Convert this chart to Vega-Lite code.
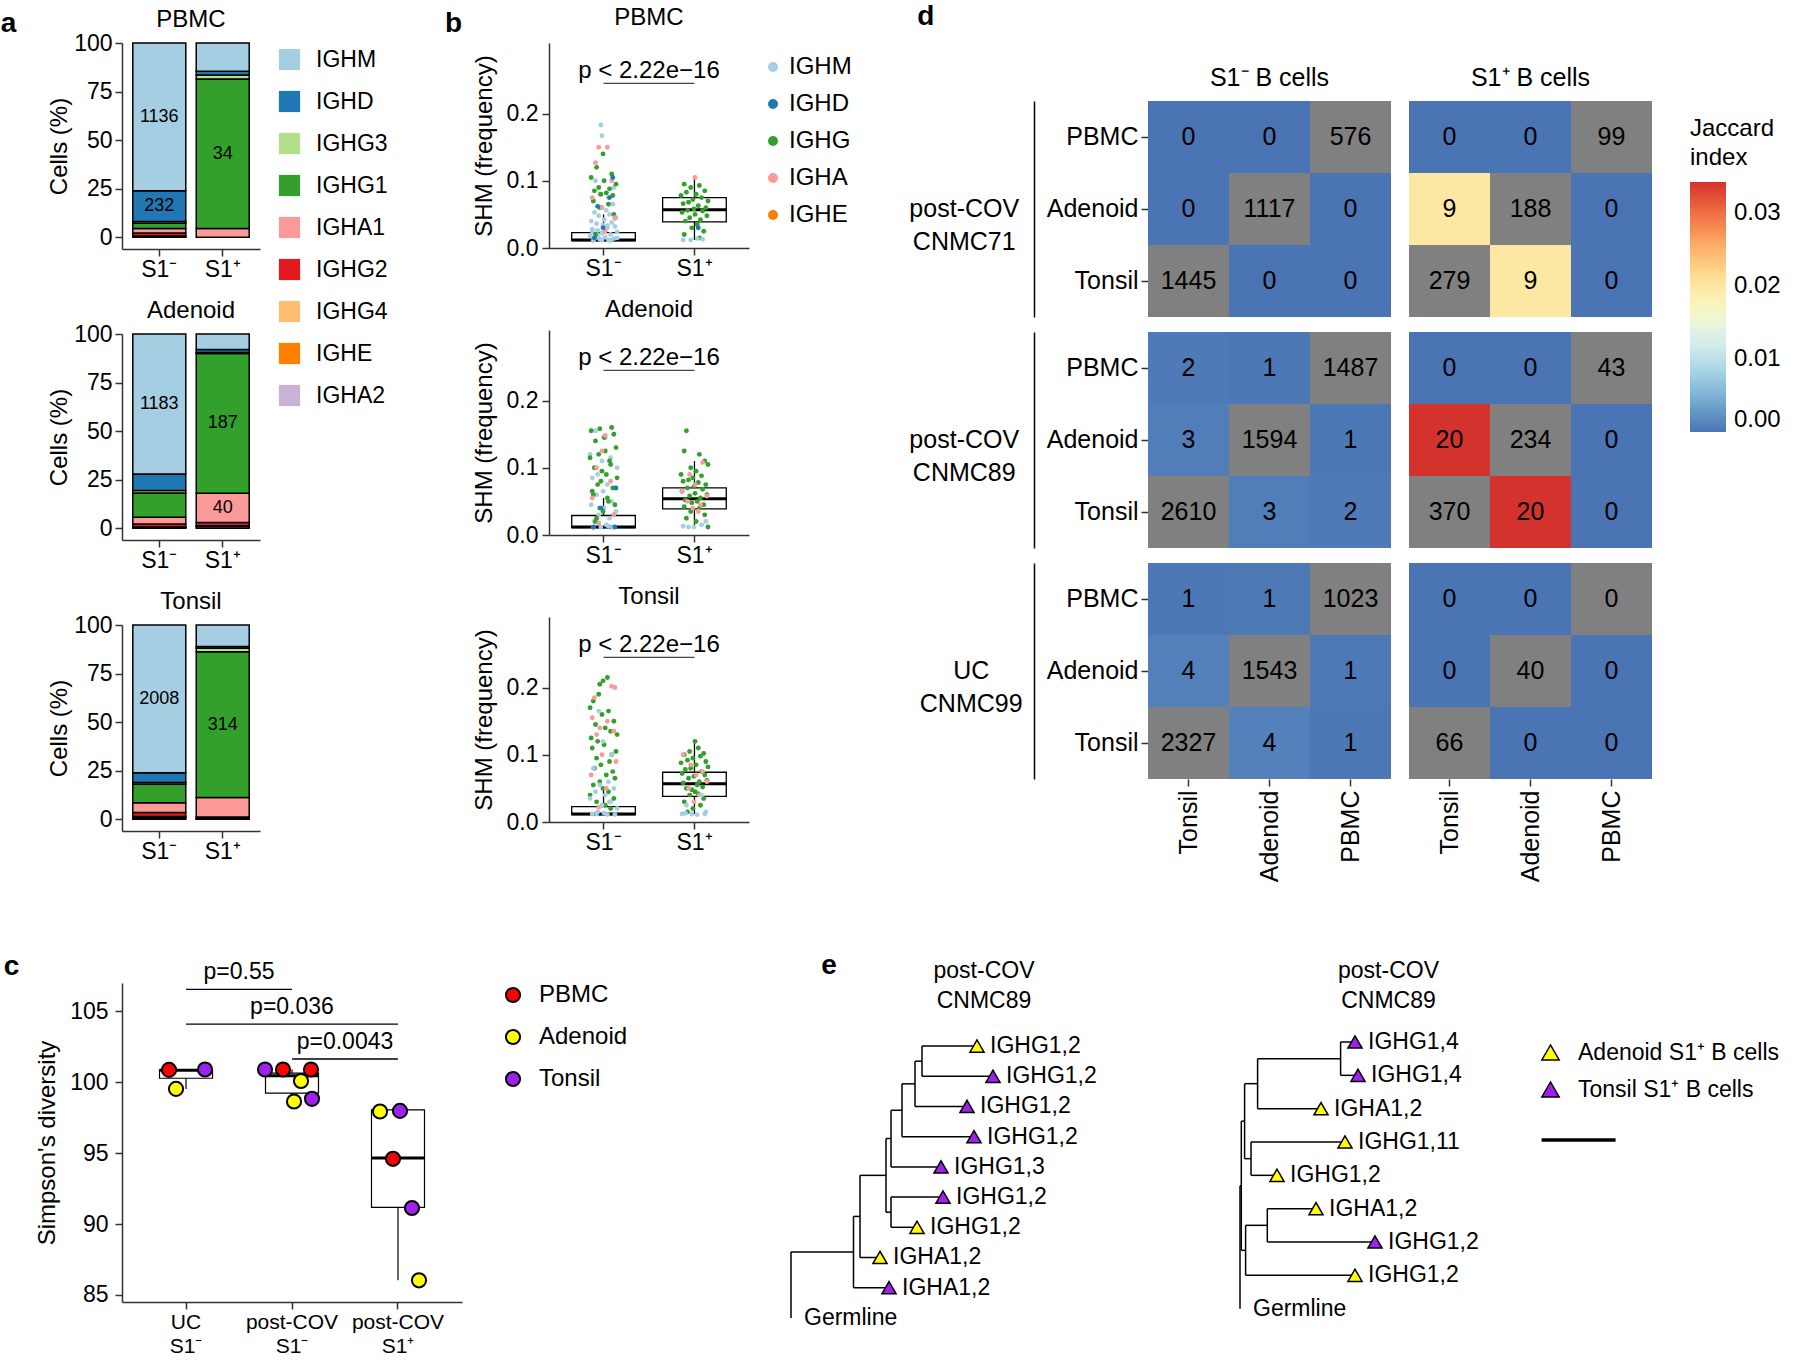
{
"$schema": "https://vega.github.io/schema/vega-lite/v6.json",
"padding": {"left": 0, "top": 3, "right": 0, "bottom": 0},
"background": "white",
"config": {
  "font": "Liberation Sans",
  "view": {"stroke": null},
  "axis": {"labelFontSize": 23, "titleFontSize": 24, "titleFontWeight": "normal", "labelColor": "black", "titleColor": "black", "domainColor": "#333333", "tickColor": "#333333", "domainWidth": 1.5, "tickWidth": 1.5, "grid": false, "labelOverlap": false, "labelFlush": false},
  "legend": {"labelFontSize": 23, "titleFontSize": 23, "titleFontWeight": "normal", "labelColor": "black", "titleColor": "black", "labelLimit": 400},
  "title": {"fontSize": 24, "fontWeight": "normal", "color": "black"},
  "header": {"labelFontSize": 25, "labelColor": "black"}
},
"datasets": {
  "isotypes": [
    {"tissue":"PBMC","s1":"S1⁻","iso":"IGHA2","ord":1,"pct":0.3},
    {"tissue":"PBMC","s1":"S1⁻","iso":"IGHE","ord":2,"pct":0.1},
    {"tissue":"PBMC","s1":"S1⁻","iso":"IGHG4","ord":3,"pct":0.3},
    {"tissue":"PBMC","s1":"S1⁻","iso":"IGHG2","ord":4,"pct":1.5},
    {"tissue":"PBMC","s1":"S1⁻","iso":"IGHA1","ord":5,"pct":2.3},
    {"tissue":"PBMC","s1":"S1⁻","iso":"IGHG1","ord":6,"pct":2.8},
    {"tissue":"PBMC","s1":"S1⁻","iso":"IGHG3","ord":7,"pct":0.9},
    {"tissue":"PBMC","s1":"S1⁻","iso":"IGHD","ord":8,"pct":15.8,"n":232},
    {"tissue":"PBMC","s1":"S1⁻","iso":"IGHM","ord":9,"pct":76,"n":1136},
    {"tissue":"PBMC","s1":"S1⁺","iso":"IGHA1","ord":5,"pct":4.5},
    {"tissue":"PBMC","s1":"S1⁺","iso":"IGHG1","ord":6,"pct":77,"n":34},
    {"tissue":"PBMC","s1":"S1⁺","iso":"IGHG3","ord":7,"pct":2},
    {"tissue":"PBMC","s1":"S1⁺","iso":"IGHD","ord":8,"pct":2},
    {"tissue":"PBMC","s1":"S1⁺","iso":"IGHM","ord":9,"pct":14.5},
    {"tissue":"Adenoid","s1":"S1⁻","iso":"IGHA2","ord":1,"pct":0.3},
    {"tissue":"Adenoid","s1":"S1⁻","iso":"IGHE","ord":2,"pct":0.2},
    {"tissue":"Adenoid","s1":"S1⁻","iso":"IGHG4","ord":3,"pct":0.2},
    {"tissue":"Adenoid","s1":"S1⁻","iso":"IGHG2","ord":4,"pct":1.5},
    {"tissue":"Adenoid","s1":"S1⁻","iso":"IGHA1","ord":5,"pct":3.5},
    {"tissue":"Adenoid","s1":"S1⁻","iso":"IGHG1","ord":6,"pct":12.5},
    {"tissue":"Adenoid","s1":"S1⁻","iso":"IGHG3","ord":7,"pct":1.3},
    {"tissue":"Adenoid","s1":"S1⁻","iso":"IGHD","ord":8,"pct":8.5},
    {"tissue":"Adenoid","s1":"S1⁻","iso":"IGHM","ord":9,"pct":72,"n":1183},
    {"tissue":"Adenoid","s1":"S1⁺","iso":"IGHA2","ord":1,"pct":1},
    {"tissue":"Adenoid","s1":"S1⁺","iso":"IGHG4","ord":3,"pct":0.3},
    {"tissue":"Adenoid","s1":"S1⁺","iso":"IGHG2","ord":4,"pct":1.7},
    {"tissue":"Adenoid","s1":"S1⁺","iso":"IGHA1","ord":5,"pct":15,"n":40},
    {"tissue":"Adenoid","s1":"S1⁺","iso":"IGHG1","ord":6,"pct":72,"n":187},
    {"tissue":"Adenoid","s1":"S1⁺","iso":"IGHG3","ord":7,"pct":0.5},
    {"tissue":"Adenoid","s1":"S1⁺","iso":"IGHD","ord":8,"pct":1.5},
    {"tissue":"Adenoid","s1":"S1⁺","iso":"IGHM","ord":9,"pct":8},
    {"tissue":"Tonsil","s1":"S1⁻","iso":"IGHA2","ord":1,"pct":0.8},
    {"tissue":"Tonsil","s1":"S1⁻","iso":"IGHE","ord":2,"pct":0.2},
    {"tissue":"Tonsil","s1":"S1⁻","iso":"IGHG4","ord":3,"pct":0.5},
    {"tissue":"Tonsil","s1":"S1⁻","iso":"IGHG2","ord":4,"pct":2},
    {"tissue":"Tonsil","s1":"S1⁻","iso":"IGHA1","ord":5,"pct":5},
    {"tissue":"Tonsil","s1":"S1⁻","iso":"IGHG1","ord":6,"pct":9.5},
    {"tissue":"Tonsil","s1":"S1⁻","iso":"IGHG3","ord":7,"pct":1},
    {"tissue":"Tonsil","s1":"S1⁻","iso":"IGHD","ord":8,"pct":5},
    {"tissue":"Tonsil","s1":"S1⁻","iso":"IGHM","ord":9,"pct":76,"n":2008},
    {"tissue":"Tonsil","s1":"S1⁺","iso":"IGHA2","ord":1,"pct":0.2},
    {"tissue":"Tonsil","s1":"S1⁺","iso":"IGHG4","ord":3,"pct":0.2},
    {"tissue":"Tonsil","s1":"S1⁺","iso":"IGHG2","ord":4,"pct":0.8},
    {"tissue":"Tonsil","s1":"S1⁺","iso":"IGHA1","ord":5,"pct":10},
    {"tissue":"Tonsil","s1":"S1⁺","iso":"IGHG1","ord":6,"pct":75,"n":314},
    {"tissue":"Tonsil","s1":"S1⁺","iso":"IGHG3","ord":7,"pct":1.8},
    {"tissue":"Tonsil","s1":"S1⁺","iso":"IGHD","ord":8,"pct":1},
    {"tissue":"Tonsil","s1":"S1⁺","iso":"IGHM","ord":9,"pct":11}
  ],
  "shm": [
    {"t":"PBMC","g":"S1⁻","i":"IGHM","v":0.011,"k":3},{"t":"PBMC","g":"S1⁻","i":"IGHM","v":0.012,"k":17},{"t":"PBMC","g":"S1⁻","i":"IGHM","v":0.013,"k":9},{"t":"PBMC","g":"S1⁻","i":"IGHM","v":0.014,"k":22},{"t":"PBMC","g":"S1⁻","i":"IGHM","v":0.015,"k":5},{"t":"PBMC","g":"S1⁻","i":"IGHM","v":0.016,"k":14},{"t":"PBMC","g":"S1⁻","i":"IGHM","v":0.018,"k":0},{"t":"PBMC","g":"S1⁻","i":"IGHM","v":0.02,"k":19},{"t":"PBMC","g":"S1⁻","i":"IGHM","v":0.022,"k":11},{"t":"PBMC","g":"S1⁻","i":"IGHM","v":0.024,"k":25},
    {"t":"PBMC","g":"S1⁻","i":"IGHM","v":0.026,"k":7},{"t":"PBMC","g":"S1⁻","i":"IGHM","v":0.028,"k":2},{"t":"PBMC","g":"S1⁻","i":"IGHM","v":0.03,"k":16},{"t":"PBMC","g":"S1⁻","i":"IGHM","v":0.032,"k":23},{"t":"PBMC","g":"S1⁻","i":"IGHM","v":0.034,"k":12},{"t":"PBMC","g":"S1⁻","i":"IGHM","v":0.036,"k":6},{"t":"PBMC","g":"S1⁻","i":"IGHM","v":0.038,"k":20},{"t":"PBMC","g":"S1⁻","i":"IGHM","v":0.04,"k":1},{"t":"PBMC","g":"S1⁻","i":"IGHM","v":0.042,"k":13},{"t":"PBMC","g":"S1⁻","i":"IGHM","v":0.045,"k":24},
    {"t":"PBMC","g":"S1⁻","i":"IGHM","v":0.048,"k":8},{"t":"PBMC","g":"S1⁻","i":"IGHM","v":0.05,"k":18},{"t":"PBMC","g":"S1⁻","i":"IGHM","v":0.053,"k":4},{"t":"PBMC","g":"S1⁻","i":"IGHM","v":0.056,"k":15},{"t":"PBMC","g":"S1⁻","i":"IGHM","v":0.06,"k":10},{"t":"PBMC","g":"S1⁻","i":"IGHM","v":0.065,"k":21},{"t":"PBMC","g":"S1⁻","i":"IGHM","v":0.07,"k":3},{"t":"PBMC","g":"S1⁻","i":"IGHM","v":0.075,"k":17},{"t":"PBMC","g":"S1⁻","i":"IGHM","v":0.08,"k":9},{"t":"PBMC","g":"S1⁻","i":"IGHM","v":0.09,"k":22},
    {"t":"PBMC","g":"S1⁻","i":"IGHM","v":0.1,"k":5},{"t":"PBMC","g":"S1⁻","i":"IGHM","v":0.183,"k":10},{"t":"PBMC","g":"S1⁻","i":"IGHM","v":0.167,"k":11},{"t":"PBMC","g":"S1⁻","i":"IGHM","v":0.011,"k":19},{"t":"PBMC","g":"S1⁻","i":"IGHM","v":0.012,"k":11},{"t":"PBMC","g":"S1⁻","i":"IGHM","v":0.015,"k":25},{"t":"PBMC","g":"S1⁻","i":"IGHM","v":0.019,"k":7},{"t":"PBMC","g":"S1⁻","i":"IGHM","v":0.025,"k":2},{"t":"PBMC","g":"S1⁻","i":"IGHM","v":0.033,"k":16},{"t":"PBMC","g":"S1⁻","i":"IGHM","v":0.044,"k":23},
    {"t":"PBMC","g":"S1⁻","i":"IGHG","v":0.14,"k":12},{"t":"PBMC","g":"S1⁻","i":"IGHG","v":0.12,"k":6},{"t":"PBMC","g":"S1⁻","i":"IGHG","v":0.11,"k":20},{"t":"PBMC","g":"S1⁻","i":"IGHG","v":0.105,"k":1},{"t":"PBMC","g":"S1⁻","i":"IGHG","v":0.1,"k":13},{"t":"PBMC","g":"S1⁻","i":"IGHG","v":0.095,"k":24},{"t":"PBMC","g":"S1⁻","i":"IGHG","v":0.09,"k":8},{"t":"PBMC","g":"S1⁻","i":"IGHG","v":0.088,"k":18},{"t":"PBMC","g":"S1⁻","i":"IGHG","v":0.085,"k":4},
    {"t":"PBMC","g":"S1⁻","i":"IGHG","v":0.082,"k":15},{"t":"PBMC","g":"S1⁻","i":"IGHG","v":0.08,"k":10},{"t":"PBMC","g":"S1⁻","i":"IGHG","v":0.078,"k":21},{"t":"PBMC","g":"S1⁻","i":"IGHG","v":0.07,"k":3},{"t":"PBMC","g":"S1⁻","i":"IGHG","v":0.065,"k":17},{"t":"PBMC","g":"S1⁻","i":"IGHG","v":0.06,"k":9},{"t":"PBMC","g":"S1⁻","i":"IGHG","v":0.05,"k":22},{"t":"PBMC","g":"S1⁻","i":"IGHG","v":0.02,"k":5},
    {"t":"PBMC","g":"S1⁻","i":"IGHA","v":0.15,"k":8},{"t":"PBMC","g":"S1⁻","i":"IGHA","v":0.15,"k":16},{"t":"PBMC","g":"S1⁻","i":"IGHA","v":0.127,"k":5},{"t":"PBMC","g":"S1⁻","i":"IGHA","v":0.1,"k":20},{"t":"PBMC","g":"S1⁻","i":"IGHA","v":0.075,"k":2},{"t":"PBMC","g":"S1⁻","i":"IGHA","v":0.06,"k":11},{"t":"PBMC","g":"S1⁻","i":"IGHA","v":0.045,"k":23},{"t":"PBMC","g":"S1⁻","i":"IGHA","v":0.025,"k":14},
    {"t":"PBMC","g":"S1⁻","i":"IGHD","v":0.105,"k":21},{"t":"PBMC","g":"S1⁻","i":"IGHD","v":0.075,"k":18},{"t":"PBMC","g":"S1⁻","i":"IGHD","v":0.062,"k":7},{"t":"PBMC","g":"S1⁻","i":"IGHD","v":0.03,"k":12},{"t":"PBMC","g":"S1⁻","i":"IGHD","v":0.015,"k":4},
    {"t":"PBMC","g":"S1⁺","i":"IGHG","v":0.095,"k":3},{"t":"PBMC","g":"S1⁺","i":"IGHG","v":0.093,"k":17},{"t":"PBMC","g":"S1⁺","i":"IGHG","v":0.09,"k":9},{"t":"PBMC","g":"S1⁺","i":"IGHG","v":0.085,"k":22},{"t":"PBMC","g":"S1⁺","i":"IGHG","v":0.083,"k":5},{"t":"PBMC","g":"S1⁺","i":"IGHG","v":0.08,"k":14},{"t":"PBMC","g":"S1⁺","i":"IGHG","v":0.078,"k":0},{"t":"PBMC","g":"S1⁺","i":"IGHG","v":0.075,"k":19},{"t":"PBMC","g":"S1⁺","i":"IGHG","v":0.072,"k":11},{"t":"PBMC","g":"S1⁺","i":"IGHG","v":0.07,"k":25},
    {"t":"PBMC","g":"S1⁺","i":"IGHG","v":0.068,"k":7},{"t":"PBMC","g":"S1⁺","i":"IGHG","v":0.066,"k":2},{"t":"PBMC","g":"S1⁺","i":"IGHG","v":0.063,"k":16},{"t":"PBMC","g":"S1⁺","i":"IGHG","v":0.06,"k":23},{"t":"PBMC","g":"S1⁺","i":"IGHG","v":0.058,"k":12},{"t":"PBMC","g":"S1⁺","i":"IGHG","v":0.056,"k":6},{"t":"PBMC","g":"S1⁺","i":"IGHG","v":0.055,"k":20},{"t":"PBMC","g":"S1⁺","i":"IGHG","v":0.053,"k":1},{"t":"PBMC","g":"S1⁺","i":"IGHG","v":0.05,"k":13},{"t":"PBMC","g":"S1⁺","i":"IGHG","v":0.048,"k":24},
    {"t":"PBMC","g":"S1⁺","i":"IGHG","v":0.045,"k":8},{"t":"PBMC","g":"S1⁺","i":"IGHG","v":0.042,"k":18},{"t":"PBMC","g":"S1⁺","i":"IGHG","v":0.04,"k":4},{"t":"PBMC","g":"S1⁺","i":"IGHG","v":0.035,"k":15},{"t":"PBMC","g":"S1⁺","i":"IGHG","v":0.03,"k":10},{"t":"PBMC","g":"S1⁺","i":"IGHG","v":0.025,"k":21},{"t":"PBMC","g":"S1⁺","i":"IGHG","v":0.02,"k":3},{"t":"PBMC","g":"S1⁺","i":"IGHG","v":0.015,"k":17},
    {"t":"PBMC","g":"S1⁺","i":"IGHA","v":0.105,"k":13},{"t":"PBMC","g":"S1⁺","i":"IGHD","v":0.03,"k":16},{"t":"PBMC","g":"S1⁺","i":"IGHM","v":0.012,"k":2},{"t":"PBMC","g":"S1⁺","i":"IGHM","v":0.012,"k":9},{"t":"PBMC","g":"S1⁺","i":"IGHM","v":0.013,"k":20},{"t":"PBMC","g":"S1⁺","i":"IGHM","v":0.014,"k":15},
    {"t":"Adenoid","g":"S1⁻","i":"IGHM","v":0.155,"k":5},{"t":"Adenoid","g":"S1⁻","i":"IGHM","v":0.145,"k":14},{"t":"Adenoid","g":"S1⁻","i":"IGHM","v":0.12,"k":0},{"t":"Adenoid","g":"S1⁻","i":"IGHM","v":0.115,"k":19},{"t":"Adenoid","g":"S1⁻","i":"IGHM","v":0.11,"k":11},{"t":"Adenoid","g":"S1⁻","i":"IGHM","v":0.1,"k":25},{"t":"Adenoid","g":"S1⁻","i":"IGHM","v":0.09,"k":7},{"t":"Adenoid","g":"S1⁻","i":"IGHM","v":0.085,"k":2},{"t":"Adenoid","g":"S1⁻","i":"IGHM","v":0.075,"k":16},{"t":"Adenoid","g":"S1⁻","i":"IGHM","v":0.07,"k":23},
    {"t":"Adenoid","g":"S1⁻","i":"IGHM","v":0.065,"k":12},{"t":"Adenoid","g":"S1⁻","i":"IGHM","v":0.06,"k":6},{"t":"Adenoid","g":"S1⁻","i":"IGHM","v":0.05,"k":20},{"t":"Adenoid","g":"S1⁻","i":"IGHM","v":0.045,"k":1},{"t":"Adenoid","g":"S1⁻","i":"IGHM","v":0.04,"k":13},{"t":"Adenoid","g":"S1⁻","i":"IGHM","v":0.035,"k":24},{"t":"Adenoid","g":"S1⁻","i":"IGHM","v":0.03,"k":8},{"t":"Adenoid","g":"S1⁻","i":"IGHM","v":0.025,"k":18},{"t":"Adenoid","g":"S1⁻","i":"IGHM","v":0.02,"k":4},{"t":"Adenoid","g":"S1⁻","i":"IGHM","v":0.015,"k":15},
    {"t":"Adenoid","g":"S1⁻","i":"IGHM","v":0.012,"k":10},{"t":"Adenoid","g":"S1⁻","i":"IGHM","v":0.011,"k":21},{"t":"Adenoid","g":"S1⁻","i":"IGHM","v":0.011,"k":3},{"t":"Adenoid","g":"S1⁻","i":"IGHM","v":0.013,"k":17},
    {"t":"Adenoid","g":"S1⁻","i":"IGHG","v":0.16,"k":20},{"t":"Adenoid","g":"S1⁻","i":"IGHG","v":0.158,"k":9},{"t":"Adenoid","g":"S1⁻","i":"IGHG","v":0.155,"k":1},{"t":"Adenoid","g":"S1⁻","i":"IGHG","v":0.15,"k":22},{"t":"Adenoid","g":"S1⁻","i":"IGHG","v":0.145,"k":13},{"t":"Adenoid","g":"S1⁻","i":"IGHG","v":0.14,"k":5},{"t":"Adenoid","g":"S1⁻","i":"IGHG","v":0.13,"k":24},{"t":"Adenoid","g":"S1⁻","i":"IGHG","v":0.125,"k":14},{"t":"Adenoid","g":"S1⁻","i":"IGHG","v":0.12,"k":8},{"t":"Adenoid","g":"S1⁻","i":"IGHG","v":0.115,"k":0},
    {"t":"Adenoid","g":"S1⁻","i":"IGHG","v":0.11,"k":18},{"t":"Adenoid","g":"S1⁻","i":"IGHG","v":0.105,"k":19},{"t":"Adenoid","g":"S1⁻","i":"IGHG","v":0.1,"k":4},{"t":"Adenoid","g":"S1⁻","i":"IGHG","v":0.095,"k":11},{"t":"Adenoid","g":"S1⁻","i":"IGHG","v":0.09,"k":15},{"t":"Adenoid","g":"S1⁻","i":"IGHG","v":0.085,"k":25},{"t":"Adenoid","g":"S1⁻","i":"IGHG","v":0.08,"k":10},{"t":"Adenoid","g":"S1⁻","i":"IGHG","v":0.075,"k":7},{"t":"Adenoid","g":"S1⁻","i":"IGHG","v":0.07,"k":21},{"t":"Adenoid","g":"S1⁻","i":"IGHG","v":0.065,"k":2},
    {"t":"Adenoid","g":"S1⁻","i":"IGHG","v":0.06,"k":3},{"t":"Adenoid","g":"S1⁻","i":"IGHG","v":0.055,"k":16},{"t":"Adenoid","g":"S1⁻","i":"IGHG","v":0.05,"k":17},{"t":"Adenoid","g":"S1⁻","i":"IGHG","v":0.045,"k":23},{"t":"Adenoid","g":"S1⁻","i":"IGHG","v":0.04,"k":9},{"t":"Adenoid","g":"S1⁻","i":"IGHG","v":0.035,"k":12},{"t":"Adenoid","g":"S1⁻","i":"IGHG","v":0.03,"k":22},{"t":"Adenoid","g":"S1⁻","i":"IGHG","v":0.025,"k":6},{"t":"Adenoid","g":"S1⁻","i":"IGHG","v":0.02,"k":5},
    {"t":"Adenoid","g":"S1⁻","i":"IGHA","v":0.148,"k":14},{"t":"Adenoid","g":"S1⁻","i":"IGHA","v":0.125,"k":11},{"t":"Adenoid","g":"S1⁻","i":"IGHA","v":0.1,"k":6},{"t":"Adenoid","g":"S1⁻","i":"IGHA","v":0.08,"k":19},{"t":"Adenoid","g":"S1⁻","i":"IGHA","v":0.055,"k":2},{"t":"Adenoid","g":"S1⁻","i":"IGHA","v":0.03,"k":22},{"t":"Adenoid","g":"S1⁻","i":"IGHA","v":0.018,"k":8},
    {"t":"Adenoid","g":"S1⁻","i":"IGHD","v":0.012,"k":3},{"t":"Adenoid","g":"S1⁻","i":"IGHD","v":0.012,"k":23},{"t":"Adenoid","g":"S1⁻","i":"IGHD","v":0.07,"k":24},{"t":"Adenoid","g":"S1⁻","i":"IGHD","v":0.04,"k":10},
    {"t":"Adenoid","g":"S1⁺","i":"IGHG","v":0.155,"k":5},{"t":"Adenoid","g":"S1⁺","i":"IGHG","v":0.125,"k":3},{"t":"Adenoid","g":"S1⁺","i":"IGHG","v":0.12,"k":17},{"t":"Adenoid","g":"S1⁺","i":"IGHG","v":0.11,"k":22},{"t":"Adenoid","g":"S1⁺","i":"IGHG","v":0.105,"k":25},{"t":"Adenoid","g":"S1⁺","i":"IGHG","v":0.1,"k":9},{"t":"Adenoid","g":"S1⁺","i":"IGHG","v":0.095,"k":14},{"t":"Adenoid","g":"S1⁺","i":"IGHG","v":0.09,"k":0},{"t":"Adenoid","g":"S1⁺","i":"IGHG","v":0.088,"k":19},{"t":"Adenoid","g":"S1⁺","i":"IGHG","v":0.085,"k":11},
    {"t":"Adenoid","g":"S1⁺","i":"IGHG","v":0.082,"k":7},{"t":"Adenoid","g":"S1⁺","i":"IGHG","v":0.08,"k":2},{"t":"Adenoid","g":"S1⁺","i":"IGHG","v":0.078,"k":16},{"t":"Adenoid","g":"S1⁺","i":"IGHG","v":0.075,"k":23},{"t":"Adenoid","g":"S1⁺","i":"IGHG","v":0.072,"k":12},{"t":"Adenoid","g":"S1⁺","i":"IGHG","v":0.07,"k":6},{"t":"Adenoid","g":"S1⁺","i":"IGHG","v":0.068,"k":20},{"t":"Adenoid","g":"S1⁺","i":"IGHG","v":0.065,"k":1},{"t":"Adenoid","g":"S1⁺","i":"IGHG","v":0.062,"k":13},{"t":"Adenoid","g":"S1⁺","i":"IGHG","v":0.06,"k":24},
    {"t":"Adenoid","g":"S1⁺","i":"IGHG","v":0.058,"k":8},{"t":"Adenoid","g":"S1⁺","i":"IGHG","v":0.055,"k":18},{"t":"Adenoid","g":"S1⁺","i":"IGHG","v":0.052,"k":4},{"t":"Adenoid","g":"S1⁺","i":"IGHG","v":0.05,"k":15},{"t":"Adenoid","g":"S1⁺","i":"IGHG","v":0.048,"k":10},{"t":"Adenoid","g":"S1⁺","i":"IGHG","v":0.045,"k":21},{"t":"Adenoid","g":"S1⁺","i":"IGHG","v":0.042,"k":3},{"t":"Adenoid","g":"S1⁺","i":"IGHG","v":0.04,"k":17},{"t":"Adenoid","g":"S1⁺","i":"IGHG","v":0.035,"k":9},{"t":"Adenoid","g":"S1⁺","i":"IGHG","v":0.03,"k":22},
    {"t":"Adenoid","g":"S1⁺","i":"IGHG","v":0.025,"k":5},{"t":"Adenoid","g":"S1⁺","i":"IGHG","v":0.02,"k":14},{"t":"Adenoid","g":"S1⁺","i":"IGHG","v":0.012,"k":25},
    {"t":"Adenoid","g":"S1⁺","i":"IGHA","v":0.108,"k":20},{"t":"Adenoid","g":"S1⁺","i":"IGHA","v":0.09,"k":8},{"t":"Adenoid","g":"S1⁺","i":"IGHA","v":0.075,"k":13},{"t":"Adenoid","g":"S1⁺","i":"IGHA","v":0.065,"k":1},{"t":"Adenoid","g":"S1⁺","i":"IGHA","v":0.058,"k":24},{"t":"Adenoid","g":"S1⁺","i":"IGHA","v":0.05,"k":6},{"t":"Adenoid","g":"S1⁺","i":"IGHA","v":0.045,"k":18},{"t":"Adenoid","g":"S1⁺","i":"IGHA","v":0.04,"k":11},{"t":"Adenoid","g":"S1⁺","i":"IGHA","v":0.035,"k":16},
    {"t":"Adenoid","g":"S1⁺","i":"IGHM","v":0.013,"k":2},{"t":"Adenoid","g":"S1⁺","i":"IGHM","v":0.012,"k":7},{"t":"Adenoid","g":"S1⁺","i":"IGHM","v":0.012,"k":12},{"t":"Adenoid","g":"S1⁺","i":"IGHM","v":0.015,"k":19},{"t":"Adenoid","g":"S1⁺","i":"IGHM","v":0.02,"k":23},
    {"t":"Tonsil","g":"S1⁻","i":"IGHG","v":0.215,"k":16},{"t":"Tonsil","g":"S1⁻","i":"IGHG","v":0.21,"k":12},{"t":"Tonsil","g":"S1⁻","i":"IGHG","v":0.205,"k":9},{"t":"Tonsil","g":"S1⁻","i":"IGHG","v":0.19,"k":8},{"t":"Tonsil","g":"S1⁻","i":"IGHG","v":0.18,"k":3},{"t":"Tonsil","g":"S1⁻","i":"IGHG","v":0.17,"k":0},{"t":"Tonsil","g":"S1⁻","i":"IGHG","v":0.165,"k":17},{"t":"Tonsil","g":"S1⁻","i":"IGHG","v":0.16,"k":11},{"t":"Tonsil","g":"S1⁻","i":"IGHG","v":0.15,"k":22},{"t":"Tonsil","g":"S1⁻","i":"IGHG","v":0.145,"k":5},
    {"t":"Tonsil","g":"S1⁻","i":"IGHG","v":0.14,"k":14},{"t":"Tonsil","g":"S1⁻","i":"IGHG","v":0.135,"k":19},{"t":"Tonsil","g":"S1⁻","i":"IGHG","v":0.13,"k":25},{"t":"Tonsil","g":"S1⁻","i":"IGHG","v":0.125,"k":1},{"t":"Tonsil","g":"S1⁻","i":"IGHG","v":0.12,"k":7},{"t":"Tonsil","g":"S1⁻","i":"IGHG","v":0.115,"k":13},{"t":"Tonsil","g":"S1⁻","i":"IGHG","v":0.11,"k":2},{"t":"Tonsil","g":"S1⁻","i":"IGHG","v":0.105,"k":24},{"t":"Tonsil","g":"S1⁻","i":"IGHG","v":0.1,"k":20},{"t":"Tonsil","g":"S1⁻","i":"IGHG","v":0.095,"k":6},
    {"t":"Tonsil","g":"S1⁻","i":"IGHG","v":0.09,"k":18},{"t":"Tonsil","g":"S1⁻","i":"IGHG","v":0.085,"k":10},{"t":"Tonsil","g":"S1⁻","i":"IGHG","v":0.08,"k":4},{"t":"Tonsil","g":"S1⁻","i":"IGHG","v":0.075,"k":21},{"t":"Tonsil","g":"S1⁻","i":"IGHG","v":0.07,"k":15},{"t":"Tonsil","g":"S1⁻","i":"IGHG","v":0.065,"k":23},{"t":"Tonsil","g":"S1⁻","i":"IGHG","v":0.06,"k":9},{"t":"Tonsil","g":"S1⁻","i":"IGHG","v":0.055,"k":3},{"t":"Tonsil","g":"S1⁻","i":"IGHG","v":0.05,"k":12},{"t":"Tonsil","g":"S1⁻","i":"IGHG","v":0.045,"k":17},
    {"t":"Tonsil","g":"S1⁻","i":"IGHG","v":0.04,"k":0},{"t":"Tonsil","g":"S1⁻","i":"IGHG","v":0.035,"k":22},{"t":"Tonsil","g":"S1⁻","i":"IGHG","v":0.03,"k":6},{"t":"Tonsil","g":"S1⁻","i":"IGHG","v":0.025,"k":14},{"t":"Tonsil","g":"S1⁻","i":"IGHG","v":0.02,"k":19},
    {"t":"Tonsil","g":"S1⁻","i":"IGHA","v":0.202,"k":20},{"t":"Tonsil","g":"S1⁻","i":"IGHA","v":0.2,"k":23},{"t":"Tonsil","g":"S1⁻","i":"IGHA","v":0.185,"k":4},{"t":"Tonsil","g":"S1⁻","i":"IGHA","v":0.155,"k":2},{"t":"Tonsil","g":"S1⁻","i":"IGHA","v":0.15,"k":16},{"t":"Tonsil","g":"S1⁻","i":"IGHA","v":0.14,"k":9},{"t":"Tonsil","g":"S1⁻","i":"IGHA","v":0.135,"k":22},{"t":"Tonsil","g":"S1⁻","i":"IGHA","v":0.13,"k":6},{"t":"Tonsil","g":"S1⁻","i":"IGHA","v":0.1,"k":11},{"t":"Tonsil","g":"S1⁻","i":"IGHA","v":0.09,"k":24},
    {"t":"Tonsil","g":"S1⁻","i":"IGHA","v":0.07,"k":1},{"t":"Tonsil","g":"S1⁻","i":"IGHA","v":0.05,"k":15},{"t":"Tonsil","g":"S1⁻","i":"IGHA","v":0.03,"k":18},{"t":"Tonsil","g":"S1⁻","i":"IGHA","v":0.022,"k":8},
    {"t":"Tonsil","g":"S1⁻","i":"IGHM","v":0.165,"k":8},{"t":"Tonsil","g":"S1⁻","i":"IGHM","v":0.12,"k":12},{"t":"Tonsil","g":"S1⁻","i":"IGHM","v":0.1,"k":20},{"t":"Tonsil","g":"S1⁻","i":"IGHM","v":0.08,"k":3},{"t":"Tonsil","g":"S1⁻","i":"IGHM","v":0.06,"k":17},{"t":"Tonsil","g":"S1⁻","i":"IGHM","v":0.055,"k":9},{"t":"Tonsil","g":"S1⁻","i":"IGHM","v":0.05,"k":22},{"t":"Tonsil","g":"S1⁻","i":"IGHM","v":0.045,"k":5},{"t":"Tonsil","g":"S1⁻","i":"IGHM","v":0.04,"k":14},{"t":"Tonsil","g":"S1⁻","i":"IGHM","v":0.035,"k":0},
    {"t":"Tonsil","g":"S1⁻","i":"IGHM","v":0.03,"k":19},{"t":"Tonsil","g":"S1⁻","i":"IGHM","v":0.025,"k":11},{"t":"Tonsil","g":"S1⁻","i":"IGHM","v":0.02,"k":25},{"t":"Tonsil","g":"S1⁻","i":"IGHM","v":0.015,"k":7},{"t":"Tonsil","g":"S1⁻","i":"IGHM","v":0.012,"k":2},{"t":"Tonsil","g":"S1⁻","i":"IGHM","v":0.011,"k":16},{"t":"Tonsil","g":"S1⁻","i":"IGHM","v":0.011,"k":23},{"t":"Tonsil","g":"S1⁻","i":"IGHM","v":0.012,"k":6},{"t":"Tonsil","g":"S1⁻","i":"IGHM","v":0.013,"k":13},
    {"t":"Tonsil","g":"S1⁺","i":"IGHG","v":0.12,"k":13},{"t":"Tonsil","g":"S1⁺","i":"IGHG","v":0.11,"k":16},{"t":"Tonsil","g":"S1⁺","i":"IGHG","v":0.105,"k":8},{"t":"Tonsil","g":"S1⁺","i":"IGHG","v":0.102,"k":21},{"t":"Tonsil","g":"S1⁺","i":"IGHG","v":0.1,"k":3},{"t":"Tonsil","g":"S1⁺","i":"IGHG","v":0.098,"k":18},{"t":"Tonsil","g":"S1⁺","i":"IGHG","v":0.095,"k":11},{"t":"Tonsil","g":"S1⁺","i":"IGHG","v":0.092,"k":6},{"t":"Tonsil","g":"S1⁺","i":"IGHG","v":0.09,"k":23},{"t":"Tonsil","g":"S1⁺","i":"IGHG","v":0.088,"k":0},
    {"t":"Tonsil","g":"S1⁺","i":"IGHG","v":0.085,"k":14},{"t":"Tonsil","g":"S1⁺","i":"IGHG","v":0.082,"k":25},{"t":"Tonsil","g":"S1⁺","i":"IGHG","v":0.08,"k":9},{"t":"Tonsil","g":"S1⁺","i":"IGHG","v":0.078,"k":4},{"t":"Tonsil","g":"S1⁺","i":"IGHG","v":0.075,"k":19},{"t":"Tonsil","g":"S1⁺","i":"IGHG","v":0.072,"k":1},{"t":"Tonsil","g":"S1⁺","i":"IGHG","v":0.07,"k":22},{"t":"Tonsil","g":"S1⁺","i":"IGHG","v":0.068,"k":12},{"t":"Tonsil","g":"S1⁺","i":"IGHG","v":0.065,"k":7},{"t":"Tonsil","g":"S1⁺","i":"IGHG","v":0.062,"k":24},
    {"t":"Tonsil","g":"S1⁺","i":"IGHG","v":0.06,"k":17},{"t":"Tonsil","g":"S1⁺","i":"IGHG","v":0.058,"k":2},{"t":"Tonsil","g":"S1⁺","i":"IGHG","v":0.055,"k":15},{"t":"Tonsil","g":"S1⁺","i":"IGHG","v":0.052,"k":20},{"t":"Tonsil","g":"S1⁺","i":"IGHG","v":0.05,"k":5},{"t":"Tonsil","g":"S1⁺","i":"IGHG","v":0.048,"k":10},{"t":"Tonsil","g":"S1⁺","i":"IGHG","v":0.045,"k":13},{"t":"Tonsil","g":"S1⁺","i":"IGHG","v":0.042,"k":16},{"t":"Tonsil","g":"S1⁺","i":"IGHG","v":0.04,"k":8},{"t":"Tonsil","g":"S1⁺","i":"IGHG","v":0.035,"k":21},
    {"t":"Tonsil","g":"S1⁺","i":"IGHG","v":0.03,"k":3},{"t":"Tonsil","g":"S1⁺","i":"IGHG","v":0.025,"k":18},{"t":"Tonsil","g":"S1⁺","i":"IGHG","v":0.02,"k":11},{"t":"Tonsil","g":"S1⁺","i":"IGHG","v":0.015,"k":6},
    {"t":"Tonsil","g":"S1⁺","i":"IGHA","v":0.1,"k":2},{"t":"Tonsil","g":"S1⁺","i":"IGHA","v":0.085,"k":9},{"t":"Tonsil","g":"S1⁺","i":"IGHA","v":0.075,"k":20},{"t":"Tonsil","g":"S1⁺","i":"IGHA","v":0.07,"k":14},{"t":"Tonsil","g":"S1⁺","i":"IGHA","v":0.06,"k":24},{"t":"Tonsil","g":"S1⁺","i":"IGHA","v":0.05,"k":7},{"t":"Tonsil","g":"S1⁺","i":"IGHA","v":0.04,"k":17},{"t":"Tonsil","g":"S1⁺","i":"IGHA","v":0.03,"k":12},
    {"t":"Tonsil","g":"S1⁺","i":"IGHM","v":0.04,"k":19},{"t":"Tonsil","g":"S1⁺","i":"IGHM","v":0.025,"k":5},{"t":"Tonsil","g":"S1⁺","i":"IGHM","v":0.015,"k":23},{"t":"Tonsil","g":"S1⁺","i":"IGHM","v":0.012,"k":1},{"t":"Tonsil","g":"S1⁺","i":"IGHM","v":0.012,"k":10},{"t":"Tonsil","g":"S1⁺","i":"IGHM","v":0.011,"k":15},{"t":"Tonsil","g":"S1⁺","i":"IGHM","v":0.012,"k":22},{"t":"Tonsil","g":"S1⁺","i":"IGHM","v":0.013,"k":4}
  ],
  "shmbox": [
    {"t":"PBMC","g":"S1⁻","lo":0.01,"q1":0.011,"med":0.012,"q3":0.023,"hi":0.05},
    {"t":"PBMC","g":"S1⁺","lo":0.012,"q1":0.039,"med":0.057,"q3":0.075,"hi":0.105},
    {"t":"Adenoid","g":"S1⁻","lo":0.01,"q1":0.011,"med":0.012,"q3":0.029,"hi":0.055},
    {"t":"Adenoid","g":"S1⁺","lo":0.013,"q1":0.039,"med":0.054,"q3":0.07,"hi":0.11},
    {"t":"Tonsil","g":"S1⁻","lo":0.01,"q1":0.011,"med":0.012,"q3":0.023,"hi":0.05},
    {"t":"Tonsil","g":"S1⁺","lo":0.012,"q1":0.038,"med":0.057,"q3":0.074,"hi":0.12}
  ],
  "pv": [
    {"t":"PBMC","from":"S1⁻","to":"S1⁺","y":0.245,"label":"p < 2.22e−16"},
    {"t":"Adenoid","from":"S1⁻","to":"S1⁺","y":0.245,"label":"p < 2.22e−16"},
    {"t":"Tonsil","from":"S1⁻","to":"S1⁺","y":0.245,"label":"p < 2.22e−16"}
  ],
  "jac": [
    {"donor":"post-COV CNMC71","status":"S1⁻ B cells","row":"PBMC","col":"Tonsil","n":0,"jac":0},
    {"donor":"post-COV CNMC71","status":"S1⁻ B cells","row":"PBMC","col":"Adenoid","n":0,"jac":0},
    {"donor":"post-COV CNMC71","status":"S1⁻ B cells","row":"PBMC","col":"PBMC","n":576,"jac":null},
    {"donor":"post-COV CNMC71","status":"S1⁻ B cells","row":"Adenoid","col":"Tonsil","n":0,"jac":0},
    {"donor":"post-COV CNMC71","status":"S1⁻ B cells","row":"Adenoid","col":"Adenoid","n":1117,"jac":null},
    {"donor":"post-COV CNMC71","status":"S1⁻ B cells","row":"Adenoid","col":"PBMC","n":0,"jac":0},
    {"donor":"post-COV CNMC71","status":"S1⁻ B cells","row":"Tonsil","col":"Tonsil","n":1445,"jac":null},
    {"donor":"post-COV CNMC71","status":"S1⁻ B cells","row":"Tonsil","col":"Adenoid","n":0,"jac":0},
    {"donor":"post-COV CNMC71","status":"S1⁻ B cells","row":"Tonsil","col":"PBMC","n":0,"jac":0},
    {"donor":"post-COV CNMC71","status":"S1⁺ B cells","row":"PBMC","col":"Tonsil","n":0,"jac":0},
    {"donor":"post-COV CNMC71","status":"S1⁺ B cells","row":"PBMC","col":"Adenoid","n":0,"jac":0},
    {"donor":"post-COV CNMC71","status":"S1⁺ B cells","row":"PBMC","col":"PBMC","n":99,"jac":null},
    {"donor":"post-COV CNMC71","status":"S1⁺ B cells","row":"Adenoid","col":"Tonsil","n":9,"jac":0.0197},
    {"donor":"post-COV CNMC71","status":"S1⁺ B cells","row":"Adenoid","col":"Adenoid","n":188,"jac":null},
    {"donor":"post-COV CNMC71","status":"S1⁺ B cells","row":"Adenoid","col":"PBMC","n":0,"jac":0},
    {"donor":"post-COV CNMC71","status":"S1⁺ B cells","row":"Tonsil","col":"Tonsil","n":279,"jac":null},
    {"donor":"post-COV CNMC71","status":"S1⁺ B cells","row":"Tonsil","col":"Adenoid","n":9,"jac":0.0197},
    {"donor":"post-COV CNMC71","status":"S1⁺ B cells","row":"Tonsil","col":"PBMC","n":0,"jac":0},
    {"donor":"post-COV CNMC89","status":"S1⁻ B cells","row":"PBMC","col":"Tonsil","n":2,"jac":0.00049},
    {"donor":"post-COV CNMC89","status":"S1⁻ B cells","row":"PBMC","col":"Adenoid","n":1,"jac":0.00033},
    {"donor":"post-COV CNMC89","status":"S1⁻ B cells","row":"PBMC","col":"PBMC","n":1487,"jac":null},
    {"donor":"post-COV CNMC89","status":"S1⁻ B cells","row":"Adenoid","col":"Tonsil","n":3,"jac":0.00071},
    {"donor":"post-COV CNMC89","status":"S1⁻ B cells","row":"Adenoid","col":"Adenoid","n":1594,"jac":null},
    {"donor":"post-COV CNMC89","status":"S1⁻ B cells","row":"Adenoid","col":"PBMC","n":1,"jac":0.00033},
    {"donor":"post-COV CNMC89","status":"S1⁻ B cells","row":"Tonsil","col":"Tonsil","n":2610,"jac":null},
    {"donor":"post-COV CNMC89","status":"S1⁻ B cells","row":"Tonsil","col":"Adenoid","n":3,"jac":0.00071},
    {"donor":"post-COV CNMC89","status":"S1⁻ B cells","row":"Tonsil","col":"PBMC","n":2,"jac":0.00049},
    {"donor":"post-COV CNMC89","status":"S1⁺ B cells","row":"PBMC","col":"Tonsil","n":0,"jac":0},
    {"donor":"post-COV CNMC89","status":"S1⁺ B cells","row":"PBMC","col":"Adenoid","n":0,"jac":0},
    {"donor":"post-COV CNMC89","status":"S1⁺ B cells","row":"PBMC","col":"PBMC","n":43,"jac":null},
    {"donor":"post-COV CNMC89","status":"S1⁺ B cells","row":"Adenoid","col":"Tonsil","n":20,"jac":0.0342},
    {"donor":"post-COV CNMC89","status":"S1⁺ B cells","row":"Adenoid","col":"Adenoid","n":234,"jac":null},
    {"donor":"post-COV CNMC89","status":"S1⁺ B cells","row":"Adenoid","col":"PBMC","n":0,"jac":0},
    {"donor":"post-COV CNMC89","status":"S1⁺ B cells","row":"Tonsil","col":"Tonsil","n":370,"jac":null},
    {"donor":"post-COV CNMC89","status":"S1⁺ B cells","row":"Tonsil","col":"Adenoid","n":20,"jac":0.0342},
    {"donor":"post-COV CNMC89","status":"S1⁺ B cells","row":"Tonsil","col":"PBMC","n":0,"jac":0},
    {"donor":"UC CNMC99","status":"S1⁻ B cells","row":"PBMC","col":"Tonsil","n":1,"jac":0.0003},
    {"donor":"UC CNMC99","status":"S1⁻ B cells","row":"PBMC","col":"Adenoid","n":1,"jac":0.00039},
    {"donor":"UC CNMC99","status":"S1⁻ B cells","row":"PBMC","col":"PBMC","n":1023,"jac":null},
    {"donor":"UC CNMC99","status":"S1⁻ B cells","row":"Adenoid","col":"Tonsil","n":4,"jac":0.00103},
    {"donor":"UC CNMC99","status":"S1⁻ B cells","row":"Adenoid","col":"Adenoid","n":1543,"jac":null},
    {"donor":"UC CNMC99","status":"S1⁻ B cells","row":"Adenoid","col":"PBMC","n":1,"jac":0.00039},
    {"donor":"UC CNMC99","status":"S1⁻ B cells","row":"Tonsil","col":"Tonsil","n":2327,"jac":null},
    {"donor":"UC CNMC99","status":"S1⁻ B cells","row":"Tonsil","col":"Adenoid","n":4,"jac":0.00103},
    {"donor":"UC CNMC99","status":"S1⁻ B cells","row":"Tonsil","col":"PBMC","n":1,"jac":0.0003},
    {"donor":"UC CNMC99","status":"S1⁺ B cells","row":"PBMC","col":"Tonsil","n":0,"jac":0},
    {"donor":"UC CNMC99","status":"S1⁺ B cells","row":"PBMC","col":"Adenoid","n":0,"jac":0},
    {"donor":"UC CNMC99","status":"S1⁺ B cells","row":"PBMC","col":"PBMC","n":0,"jac":null},
    {"donor":"UC CNMC99","status":"S1⁺ B cells","row":"Adenoid","col":"Tonsil","n":0,"jac":0},
    {"donor":"UC CNMC99","status":"S1⁺ B cells","row":"Adenoid","col":"Adenoid","n":40,"jac":null},
    {"donor":"UC CNMC99","status":"S1⁺ B cells","row":"Adenoid","col":"PBMC","n":0,"jac":0},
    {"donor":"UC CNMC99","status":"S1⁺ B cells","row":"Tonsil","col":"Tonsil","n":66,"jac":null},
    {"donor":"UC CNMC99","status":"S1⁺ B cells","row":"Tonsil","col":"Adenoid","n":0,"jac":0},
    {"donor":"UC CNMC99","status":"S1⁺ B cells","row":"Tonsil","col":"PBMC","n":0,"jac":0}
  ],
  "cpts": [
    {"cond":"UC S1⁻","tissue":"PBMC","v":100.87,"k":13},
    {"cond":"UC S1⁻","tissue":"Tonsil","v":100.9,"k":49},
    {"cond":"UC S1⁻","tissue":"Adenoid","v":99.53,"k":20},
    {"cond":"post-COV S1⁻","tissue":"Tonsil","v":100.9,"k":3},
    {"cond":"post-COV S1⁻","tissue":"PBMC","v":100.9,"k":21},
    {"cond":"post-COV S1⁻","tissue":"PBMC","v":100.9,"k":49},
    {"cond":"post-COV S1⁻","tissue":"Adenoid","v":100.09,"k":39},
    {"cond":"post-COV S1⁻","tissue":"Adenoid","v":98.64,"k":32},
    {"cond":"post-COV S1⁻","tissue":"Tonsil","v":98.83,"k":50},
    {"cond":"post-COV S1⁺","tissue":"Adenoid","v":97.94,"k":12},
    {"cond":"post-COV S1⁺","tissue":"Tonsil","v":97.98,"k":32},
    {"cond":"post-COV S1⁺","tissue":"PBMC","v":94.6,"k":25},
    {"cond":"post-COV S1⁺","tissue":"Tonsil","v":91.13,"k":44},
    {"cond":"post-COV S1⁺","tissue":"Adenoid","v":86.03,"k":51}
  ],
  "cbox": [
    {"cond":"UC S1⁻","lo":99.53,"q1":100.28,"med":100.85,"q3":100.88,"hi":100.9},
    {"cond":"post-COV S1⁻","lo":98.64,"q1":99.23,"med":100.45,"q3":100.65,"hi":100.9},
    {"cond":"post-COV S1⁺","lo":86.03,"q1":91.18,"med":94.65,"q3":98.05,"hi":98.05}
  ],
  "cbr": [
    {"from":"UC S1⁻","to":"post-COV S1⁻","mid":"UC S1⁻","span":1,"y":106.55,"label":"p=0.55"},
    {"from":"UC S1⁻","to":"post-COV S1⁺","mid":"post-COV S1⁻","span":2,"y":104.1,"label":"p=0.036"},
    {"from":"post-COV S1⁻","to":"post-COV S1⁺","mid":"post-COV S1⁻","span":1,"y":101.64,"label":"p=0.0043"}
  ],
  "edges": [
    {"tree":1,"kind":"branch","d0":0,"d1":0.0625,"r0":7.82,"r1":7.82},
    {"tree":1,"kind":"branch","d0":0.0625,"d1":0.069,"r0":6.64,"r1":6.64},
    {"tree":1,"kind":"branch","d0":0.0625,"d1":0.098,"r0":9,"r1":9},
    {"tree":1,"kind":"branch","d0":0.069,"d1":0.095,"r0":5.28,"r1":5.28},
    {"tree":1,"kind":"branch","d0":0.069,"d1":0.089,"r0":8,"r1":8},
    {"tree":1,"kind":"branch","d0":0.095,"d1":0.1,"r0":4.06,"r1":4.06},
    {"tree":1,"kind":"branch","d0":0.095,"d1":0.1,"r0":6.5,"r1":6.5},
    {"tree":1,"kind":"branch","d0":0.1,"d1":0.111,"r0":3.125,"r1":3.125},
    {"tree":1,"kind":"branch","d0":0.1,"d1":0.15,"r0":5,"r1":5},
    {"tree":1,"kind":"branch","d0":0.1,"d1":0.152,"r0":6,"r1":6},
    {"tree":1,"kind":"branch","d0":0.1,"d1":0.126,"r0":7,"r1":7},
    {"tree":1,"kind":"branch","d0":0.111,"d1":0.124,"r0":2.25,"r1":2.25},
    {"tree":1,"kind":"branch","d0":0.111,"d1":0.183,"r0":4,"r1":4},
    {"tree":1,"kind":"branch","d0":0.124,"d1":0.131,"r0":1.5,"r1":1.5},
    {"tree":1,"kind":"branch","d0":0.124,"d1":0.176,"r0":3,"r1":3},
    {"tree":1,"kind":"branch","d0":0.131,"d1":0.186,"r0":1,"r1":1},
    {"tree":1,"kind":"branch","d0":0.131,"d1":0.202,"r0":2,"r1":2},
    {"tree":1,"kind":"branch","d0":0,"d1":0,"r0":7.82,"r1":10},
    {"tree":1,"kind":"branch","d0":0.0625,"d1":0.0625,"r0":6.64,"r1":9},
    {"tree":1,"kind":"branch","d0":0.069,"d1":0.069,"r0":5.28,"r1":8},
    {"tree":1,"kind":"branch","d0":0.095,"d1":0.095,"r0":4.06,"r1":6.5},
    {"tree":1,"kind":"branch","d0":0.1,"d1":0.1,"r0":3.125,"r1":5},
    {"tree":1,"kind":"branch","d0":0.1,"d1":0.1,"r0":6,"r1":7},
    {"tree":1,"kind":"branch","d0":0.111,"d1":0.111,"r0":2.25,"r1":4},
    {"tree":1,"kind":"branch","d0":0.124,"d1":0.124,"r0":1.5,"r1":3},
    {"tree":1,"kind":"branch","d0":0.131,"d1":0.131,"r0":1,"r1":2},
    {"tree":2,"kind":"branch","d0":0,"d1":0.0013,"r0":5.31,"r1":5.31},
    {"tree":2,"kind":"branch","d0":0.0013,"d1":0.0046,"r0":3.375,"r1":3.375},
    {"tree":2,"kind":"branch","d0":0.0013,"d1":0.0056,"r0":7.25,"r1":7.25},
    {"tree":2,"kind":"branch","d0":0.0046,"d1":0.0176,"r0":2.25,"r1":2.25},
    {"tree":2,"kind":"branch","d0":0.0046,"d1":0.011,"r0":4.5,"r1":4.5},
    {"tree":2,"kind":"branch","d0":0.0176,"d1":0.1006,"r0":1.5,"r1":1.5},
    {"tree":2,"kind":"branch","d0":0.0176,"d1":0.081,"r0":3,"r1":3},
    {"tree":2,"kind":"branch","d0":0.1006,"d1":0.115,"r0":1,"r1":1},
    {"tree":2,"kind":"branch","d0":0.1006,"d1":0.118,"r0":2,"r1":2},
    {"tree":2,"kind":"branch","d0":0.011,"d1":0.105,"r0":4,"r1":4},
    {"tree":2,"kind":"branch","d0":0.011,"d1":0.037,"r0":5,"r1":5},
    {"tree":2,"kind":"branch","d0":0.0056,"d1":0.0273,"r0":6.5,"r1":6.5},
    {"tree":2,"kind":"branch","d0":0.0056,"d1":0.115,"r0":8,"r1":8},
    {"tree":2,"kind":"branch","d0":0.0273,"d1":0.076,"r0":6,"r1":6},
    {"tree":2,"kind":"branch","d0":0.0273,"d1":0.135,"r0":7,"r1":7},
    {"tree":2,"kind":"branch","d0":0,"d1":0,"r0":5.31,"r1":9},
    {"tree":2,"kind":"branch","d0":0.0013,"d1":0.0013,"r0":3.375,"r1":7.25},
    {"tree":2,"kind":"branch","d0":0.0046,"d1":0.0046,"r0":2.25,"r1":4.5},
    {"tree":2,"kind":"branch","d0":0.0176,"d1":0.0176,"r0":1.5,"r1":3},
    {"tree":2,"kind":"branch","d0":0.1006,"d1":0.1006,"r0":1,"r1":2},
    {"tree":2,"kind":"branch","d0":0.011,"d1":0.011,"r0":4,"r1":5},
    {"tree":2,"kind":"branch","d0":0.0056,"d1":0.0056,"r0":6.5,"r1":8},
    {"tree":2,"kind":"branch","d0":0.0273,"d1":0.0273,"r0":6,"r1":7},
    {"tree":2,"kind":"scale","d0":0.3016,"d1":0.3756,"r0":3.94,"r1":3.94}
  ],
  "tips": [
    {"tree":1,"rank":1,"dist":0.186,"label":"IGHG1,2","tissue":"Adenoid"},
    {"tree":1,"rank":2,"dist":0.202,"label":"IGHG1,2","tissue":"Tonsil"},
    {"tree":1,"rank":3,"dist":0.176,"label":"IGHG1,2","tissue":"Tonsil"},
    {"tree":1,"rank":4,"dist":0.183,"label":"IGHG1,2","tissue":"Tonsil"},
    {"tree":1,"rank":5,"dist":0.15,"label":"IGHG1,3","tissue":"Tonsil"},
    {"tree":1,"rank":6,"dist":0.152,"label":"IGHG1,2","tissue":"Tonsil"},
    {"tree":1,"rank":7,"dist":0.126,"label":"IGHG1,2","tissue":"Adenoid"},
    {"tree":1,"rank":8,"dist":0.089,"label":"IGHA1,2","tissue":"Adenoid"},
    {"tree":1,"rank":9,"dist":0.098,"label":"IGHA1,2","tissue":"Tonsil"},
    {"tree":1,"rank":10,"dist":0,"label":"Germline","tissue":null},
    {"tree":2,"rank":1,"dist":0.115,"label":"IGHG1,4","tissue":"Tonsil"},
    {"tree":2,"rank":2,"dist":0.118,"label":"IGHG1,4","tissue":"Tonsil"},
    {"tree":2,"rank":3,"dist":0.081,"label":"IGHA1,2","tissue":"Adenoid"},
    {"tree":2,"rank":4,"dist":0.105,"label":"IGHG1,11","tissue":"Adenoid"},
    {"tree":2,"rank":5,"dist":0.037,"label":"IGHG1,2","tissue":"Adenoid"},
    {"tree":2,"rank":6,"dist":0.076,"label":"IGHA1,2","tissue":"Adenoid"},
    {"tree":2,"rank":7,"dist":0.135,"label":"IGHG1,2","tissue":"Tonsil"},
    {"tree":2,"rank":8,"dist":0.115,"label":"IGHG1,2","tissue":"Adenoid"},
    {"tree":2,"rank":9,"dist":0,"label":"Germline","tissue":null}
  ]
},
"vconcat": [
  {
    "hconcat": [
      {
        "hconcat": [
          {
            "title": {"text": "a", "anchor": "start", "frame": "bounds", "fontSize": 28, "fontWeight": "bold", "offset": -30, "dx": -47},
            "vconcat": [
              {
                "width": 138, "height": 206,
                "title": {"text": "PBMC", "fontSize": 24, "offset": 0},
                "data": {"name": "isotypes"},
                "transform": [{"filter": "datum.tissue === 'PBMC'"}],
                "encoding": {"x": {"field": "s1", "type": "nominal", "sort": ["S1⁻","S1⁺"], "scale": {"domain": ["S1⁻","S1⁺"], "paddingInner": 0.165, "paddingOuter": 0.17}, "axis": {"title": null, "labelAngle": 0, "tickSize": 7, "labelPadding": 2}}},
                "layer": [
                  {"mark": {"type": "bar", "stroke": "black", "strokeWidth": 1.5},
                   "encoding": {
                     "y": {"field": "pct", "type": "quantitative", "stack": "zero", "scale": {"domain": [-6, 100], "nice": false, "zero": false}, "axis": {"values": [0, 25, 50, 75, 100], "title": "Cells (%)", "tickSize": 7, "labelPadding": 3, "titlePadding": 2}},
                     "color": {"field": "iso", "type": "nominal", "scale": {"domain": ["IGHM","IGHD","IGHG3","IGHG1","IGHA1","IGHG2","IGHG4","IGHE","IGHA2"], "range": ["#A6CEE3","#1F78B4","#B2DF8A","#33A02C","#FB9A99","#E31A1C","#FDBF6F","#FF7F00","#CAB2D6"]},
                       "legend": {"title": null, "symbolType": "square", "symbolSize": 450, "symbolStrokeWidth": 0, "labelFontSize": 23, "rowPadding": 18, "offset": 13, "padding": 5, "labelOffset": 15}},
                     "order": {"field": "ord", "type": "quantitative"}
                   }},
                  {"transform": [{"stack": "pct", "groupby": ["s1"], "sort": [{"field": "ord", "order": "ascending"}], "as": ["y0", "y1"]}, {"filter": "datum.n > 0"}, {"calculate": "(datum.y0 + datum.y1) / 2", "as": "ymid"}],
                   "mark": {"type": "text", "fontSize": 18, "color": "black"},
                   "encoding": {"y": {"field": "ymid", "type": "quantitative", "axis": {"values": [0, 25, 50, 75, 100], "title": "Cells (%)", "tickSize": 7, "labelPadding": 3, "titlePadding": 2}}, "text": {"field": "n", "type": "quantitative"}}}
                ]
              },
              {
                "width": 138, "height": 206,
                "title": {"text": "Adenoid", "fontSize": 24, "offset": 0},
                "data": {"name": "isotypes"},
                "transform": [{"filter": "datum.tissue === 'Adenoid'"}],
                "encoding": {"x": {"field": "s1", "type": "nominal", "sort": ["S1⁻","S1⁺"], "scale": {"domain": ["S1⁻","S1⁺"], "paddingInner": 0.165, "paddingOuter": 0.17}, "axis": {"title": null, "labelAngle": 0, "tickSize": 7, "labelPadding": 2}}},
                "layer": [
                  {"mark": {"type": "bar", "stroke": "black", "strokeWidth": 1.5},
                   "encoding": {
                     "y": {"field": "pct", "type": "quantitative", "stack": "zero", "scale": {"domain": [-6, 100], "nice": false, "zero": false}, "axis": {"values": [0, 25, 50, 75, 100], "title": "Cells (%)", "tickSize": 7, "labelPadding": 3, "titlePadding": 2}},
                     "color": {"field": "iso", "type": "nominal", "scale": {"domain": ["IGHM","IGHD","IGHG3","IGHG1","IGHA1","IGHG2","IGHG4","IGHE","IGHA2"], "range": ["#A6CEE3","#1F78B4","#B2DF8A","#33A02C","#FB9A99","#E31A1C","#FDBF6F","#FF7F00","#CAB2D6"]},
                       "legend": {"title": null, "symbolType": "square", "symbolSize": 450, "symbolStrokeWidth": 0, "labelFontSize": 23, "rowPadding": 18, "offset": 13, "padding": 5, "labelOffset": 15}},
                     "order": {"field": "ord", "type": "quantitative"}
                   }},
                  {"transform": [{"stack": "pct", "groupby": ["s1"], "sort": [{"field": "ord", "order": "ascending"}], "as": ["y0", "y1"]}, {"filter": "datum.n > 0"}, {"calculate": "(datum.y0 + datum.y1) / 2", "as": "ymid"}],
                   "mark": {"type": "text", "fontSize": 18, "color": "black"},
                   "encoding": {"y": {"field": "ymid", "type": "quantitative", "axis": {"values": [0, 25, 50, 75, 100], "title": "Cells (%)", "tickSize": 7, "labelPadding": 3, "titlePadding": 2}}, "text": {"field": "n", "type": "quantitative"}}}
                ]
              },
              {
                "width": 138, "height": 206,
                "title": {"text": "Tonsil", "fontSize": 24, "offset": 0},
                "data": {"name": "isotypes"},
                "transform": [{"filter": "datum.tissue === 'Tonsil'"}],
                "encoding": {"x": {"field": "s1", "type": "nominal", "sort": ["S1⁻","S1⁺"], "scale": {"domain": ["S1⁻","S1⁺"], "paddingInner": 0.165, "paddingOuter": 0.17}, "axis": {"title": null, "labelAngle": 0, "tickSize": 7, "labelPadding": 2}}},
                "layer": [
                  {"mark": {"type": "bar", "stroke": "black", "strokeWidth": 1.5},
                   "encoding": {
                     "y": {"field": "pct", "type": "quantitative", "stack": "zero", "scale": {"domain": [-6, 100], "nice": false, "zero": false}, "axis": {"values": [0, 25, 50, 75, 100], "title": "Cells (%)", "tickSize": 7, "labelPadding": 3, "titlePadding": 2}},
                     "color": {"field": "iso", "type": "nominal", "scale": {"domain": ["IGHM","IGHD","IGHG3","IGHG1","IGHA1","IGHG2","IGHG4","IGHE","IGHA2"], "range": ["#A6CEE3","#1F78B4","#B2DF8A","#33A02C","#FB9A99","#E31A1C","#FDBF6F","#FF7F00","#CAB2D6"]},
                       "legend": {"title": null, "symbolType": "square", "symbolSize": 450, "symbolStrokeWidth": 0, "labelFontSize": 23, "rowPadding": 18, "offset": 13, "padding": 5, "labelOffset": 15}},
                     "order": {"field": "ord", "type": "quantitative"}
                   }},
                  {"transform": [{"stack": "pct", "groupby": ["s1"], "sort": [{"field": "ord", "order": "ascending"}], "as": ["y0", "y1"]}, {"filter": "datum.n > 0"}, {"calculate": "(datum.y0 + datum.y1) / 2", "as": "ymid"}],
                   "mark": {"type": "text", "fontSize": 18, "color": "black"},
                   "encoding": {"y": {"field": "ymid", "type": "quantitative", "axis": {"values": [0, 25, 50, 75, 100], "title": "Cells (%)", "tickSize": 7, "labelPadding": 3, "titlePadding": 2}}, "text": {"field": "n", "type": "quantitative"}}}
                ]
              }
            ],
            "spacing": 18
          },
          {
            "title": {"text": "b", "anchor": "start", "frame": "bounds", "fontSize": 28, "fontWeight": "bold", "offset": -32, "dx": -27},
            "vconcat": [
              {
                "width": 200, "height": 205,
                "title": {"text": "PBMC", "fontSize": 24, "offset": 13},
                "encoding": {"x": {"field": "g", "type": "nominal", "scale": {"domain": ["S1⁻","S1⁺"], "paddingInner": 0, "paddingOuter": 0.1}, "axis": {"title": null, "labelAngle": 0, "tickSize": 7, "labelPadding": 2}}},
                "layer": [
                  {"data": {"name": "shmbox"}, "transform": [{"filter": "datum.t === 'PBMC'"}],
                   "mark": {"type": "bar", "fill": "white", "stroke": "black", "strokeWidth": 1.3, "width": {"band": 0.7}},
                   "encoding": {"y": {"field": "q1", "type": "quantitative", "scale": {"domain": [0, 0.305], "nice": false}, "axis": {"values": [0, 0.1, 0.2], "format": ".1f", "title": "SHM (frequency)", "tickSize": 7, "labelPadding": 4, "titlePadding": 10}}, "y2": {"field": "q3"}}},
                  {"data": {"name": "shmbox"}, "transform": [{"filter": "datum.t === 'PBMC'"}], "mark": {"type": "rule", "color": "black", "strokeWidth": 1.3},
                   "encoding": {"y": {"field": "lo", "type": "quantitative", "axis": {"values": [0, 0.1, 0.2], "format": ".1f", "title": "SHM (frequency)", "tickSize": 7, "labelPadding": 4, "titlePadding": 10}}, "y2": {"field": "q1"}}},
                  {"data": {"name": "shmbox"}, "transform": [{"filter": "datum.t === 'PBMC'"}], "mark": {"type": "rule", "color": "black", "strokeWidth": 1.3},
                   "encoding": {"y": {"field": "q3", "type": "quantitative", "axis": {"values": [0, 0.1, 0.2], "format": ".1f", "title": "SHM (frequency)", "tickSize": 7, "labelPadding": 4, "titlePadding": 10}}, "y2": {"field": "hi"}}},
                  {"data": {"name": "shmbox"}, "transform": [{"filter": "datum.t === 'PBMC'"}], "mark": {"type": "tick", "size": 64, "thickness": 3, "color": "black", "opacity": 1},
                   "encoding": {"y": {"field": "med", "type": "quantitative", "axis": {"values": [0, 0.1, 0.2], "format": ".1f", "title": "SHM (frequency)", "tickSize": 7, "labelPadding": 4, "titlePadding": 10}}}},
                  {"data": {"name": "shm"}, "transform": [{"filter": "datum.t === 'PBMC'"}], "mark": {"type": "circle", "size": 24, "opacity": 1},
                   "encoding": {
                     "xOffset": {"field": "k", "type": "quantitative", "scale": {"domain": [0, 25], "range": [32, 59]}},
                     "y": {"field": "v", "type": "quantitative", "axis": {"values": [0, 0.1, 0.2], "format": ".1f", "title": "SHM (frequency)", "tickSize": 7, "labelPadding": 4, "titlePadding": 10}},
                     "color": {"field": "i", "type": "nominal", "scale": {"domain": ["IGHM","IGHD","IGHG","IGHA","IGHE"], "range": ["#A6CEE3","#1F78B4","#33A02C","#FB9A99","#FF7F00"]},
                       "legend": {"title": null, "symbolType": "circle", "symbolSize": 100, "labelFontSize": 24, "rowPadding": 13, "offset": 0, "padding": 12, "labelOffset": 4}}}},
                  {"data": {"name": "pv"}, "transform": [{"filter": "datum.t === 'PBMC'"}], "mark": {"type": "rule", "color": "#444444", "strokeWidth": 1.3},
                   "encoding": {"x": {"field": "from", "type": "nominal", "bandPosition": 0.5, "axis": {"title": null, "labelAngle": 0, "tickSize": 7, "labelPadding": 2}}, "x2": {"field": "to", "bandPosition": 0.5}, "y": {"field": "y", "type": "quantitative", "axis": {"values": [0, 0.1, 0.2], "format": ".1f", "title": "SHM (frequency)", "tickSize": 7, "labelPadding": 4, "titlePadding": 10}}}},
                  {"data": {"name": "pv"}, "transform": [{"filter": "datum.t === 'PBMC'"}], "mark": {"type": "text", "fontSize": 24, "dy": -5, "baseline": "alphabetic", "color": "black"},
                   "encoding": {"x": {"field": "from", "type": "nominal", "bandPosition": 1, "axis": {"title": null, "labelAngle": 0, "tickSize": 7, "labelPadding": 2}}, "y": {"field": "y", "type": "quantitative", "axis": {"values": [0, 0.1, 0.2], "format": ".1f", "title": "SHM (frequency)", "tickSize": 7, "labelPadding": 4, "titlePadding": 10}}, "text": {"field": "label"}}}
                ],
                "resolve": {"scale": {"xOffset": "independent"}}
              },
              {
                "width": 200, "height": 205,
                "title": {"text": "Adenoid", "fontSize": 24, "offset": 8},
                "encoding": {"x": {"field": "g", "type": "nominal", "scale": {"domain": ["S1⁻","S1⁺"], "paddingInner": 0, "paddingOuter": 0.1}, "axis": {"title": null, "labelAngle": 0, "tickSize": 7, "labelPadding": 2}}},
                "layer": [
                  {"data": {"name": "shmbox"}, "transform": [{"filter": "datum.t === 'Adenoid'"}],
                   "mark": {"type": "bar", "fill": "white", "stroke": "black", "strokeWidth": 1.3, "width": {"band": 0.7}},
                   "encoding": {"y": {"field": "q1", "type": "quantitative", "scale": {"domain": [0, 0.305], "nice": false}, "axis": {"values": [0, 0.1, 0.2], "format": ".1f", "title": "SHM (frequency)", "tickSize": 7, "labelPadding": 4, "titlePadding": 10}}, "y2": {"field": "q3"}}},
                  {"data": {"name": "shmbox"}, "transform": [{"filter": "datum.t === 'Adenoid'"}], "mark": {"type": "rule", "color": "black", "strokeWidth": 1.3},
                   "encoding": {"y": {"field": "lo", "type": "quantitative", "axis": {"values": [0, 0.1, 0.2], "format": ".1f", "title": "SHM (frequency)", "tickSize": 7, "labelPadding": 4, "titlePadding": 10}}, "y2": {"field": "q1"}}},
                  {"data": {"name": "shmbox"}, "transform": [{"filter": "datum.t === 'Adenoid'"}], "mark": {"type": "rule", "color": "black", "strokeWidth": 1.3},
                   "encoding": {"y": {"field": "q3", "type": "quantitative", "axis": {"values": [0, 0.1, 0.2], "format": ".1f", "title": "SHM (frequency)", "tickSize": 7, "labelPadding": 4, "titlePadding": 10}}, "y2": {"field": "hi"}}},
                  {"data": {"name": "shmbox"}, "transform": [{"filter": "datum.t === 'Adenoid'"}], "mark": {"type": "tick", "size": 64, "thickness": 3, "color": "black", "opacity": 1},
                   "encoding": {"y": {"field": "med", "type": "quantitative", "axis": {"values": [0, 0.1, 0.2], "format": ".1f", "title": "SHM (frequency)", "tickSize": 7, "labelPadding": 4, "titlePadding": 10}}}},
                  {"data": {"name": "shm"}, "transform": [{"filter": "datum.t === 'Adenoid'"}], "mark": {"type": "circle", "size": 24, "opacity": 1},
                   "encoding": {
                     "xOffset": {"field": "k", "type": "quantitative", "scale": {"domain": [0, 25], "range": [32, 59]}},
                     "y": {"field": "v", "type": "quantitative", "axis": {"values": [0, 0.1, 0.2], "format": ".1f", "title": "SHM (frequency)", "tickSize": 7, "labelPadding": 4, "titlePadding": 10}},
                     "color": {"field": "i", "type": "nominal", "scale": {"domain": ["IGHM","IGHD","IGHG","IGHA","IGHE"], "range": ["#A6CEE3","#1F78B4","#33A02C","#FB9A99","#FF7F00"]},
                       "legend": {"title": null, "symbolType": "circle", "symbolSize": 100, "labelFontSize": 24, "rowPadding": 13, "offset": 0, "padding": 12, "labelOffset": 4}}}},
                  {"data": {"name": "pv"}, "transform": [{"filter": "datum.t === 'Adenoid'"}], "mark": {"type": "rule", "color": "#444444", "strokeWidth": 1.3},
                   "encoding": {"x": {"field": "from", "type": "nominal", "bandPosition": 0.5, "axis": {"title": null, "labelAngle": 0, "tickSize": 7, "labelPadding": 2}}, "x2": {"field": "to", "bandPosition": 0.5}, "y": {"field": "y", "type": "quantitative", "axis": {"values": [0, 0.1, 0.2], "format": ".1f", "title": "SHM (frequency)", "tickSize": 7, "labelPadding": 4, "titlePadding": 10}}}},
                  {"data": {"name": "pv"}, "transform": [{"filter": "datum.t === 'Adenoid'"}], "mark": {"type": "text", "fontSize": 24, "dy": -5, "baseline": "alphabetic", "color": "black"},
                   "encoding": {"x": {"field": "from", "type": "nominal", "bandPosition": 1, "axis": {"title": null, "labelAngle": 0, "tickSize": 7, "labelPadding": 2}}, "y": {"field": "y", "type": "quantitative", "axis": {"values": [0, 0.1, 0.2], "format": ".1f", "title": "SHM (frequency)", "tickSize": 7, "labelPadding": 4, "titlePadding": 10}}, "text": {"field": "label"}}}
                ],
                "resolve": {"scale": {"xOffset": "independent"}}
              },
              {
                "width": 200, "height": 205,
                "title": {"text": "Tonsil", "fontSize": 24, "offset": 8},
                "encoding": {"x": {"field": "g", "type": "nominal", "scale": {"domain": ["S1⁻","S1⁺"], "paddingInner": 0, "paddingOuter": 0.1}, "axis": {"title": null, "labelAngle": 0, "tickSize": 7, "labelPadding": 2}}},
                "layer": [
                  {"data": {"name": "shmbox"}, "transform": [{"filter": "datum.t === 'Tonsil'"}],
                   "mark": {"type": "bar", "fill": "white", "stroke": "black", "strokeWidth": 1.3, "width": {"band": 0.7}},
                   "encoding": {"y": {"field": "q1", "type": "quantitative", "scale": {"domain": [0, 0.305], "nice": false}, "axis": {"values": [0, 0.1, 0.2], "format": ".1f", "title": "SHM (frequency)", "tickSize": 7, "labelPadding": 4, "titlePadding": 10}}, "y2": {"field": "q3"}}},
                  {"data": {"name": "shmbox"}, "transform": [{"filter": "datum.t === 'Tonsil'"}], "mark": {"type": "rule", "color": "black", "strokeWidth": 1.3},
                   "encoding": {"y": {"field": "lo", "type": "quantitative", "axis": {"values": [0, 0.1, 0.2], "format": ".1f", "title": "SHM (frequency)", "tickSize": 7, "labelPadding": 4, "titlePadding": 10}}, "y2": {"field": "q1"}}},
                  {"data": {"name": "shmbox"}, "transform": [{"filter": "datum.t === 'Tonsil'"}], "mark": {"type": "rule", "color": "black", "strokeWidth": 1.3},
                   "encoding": {"y": {"field": "q3", "type": "quantitative", "axis": {"values": [0, 0.1, 0.2], "format": ".1f", "title": "SHM (frequency)", "tickSize": 7, "labelPadding": 4, "titlePadding": 10}}, "y2": {"field": "hi"}}},
                  {"data": {"name": "shmbox"}, "transform": [{"filter": "datum.t === 'Tonsil'"}], "mark": {"type": "tick", "size": 64, "thickness": 3, "color": "black", "opacity": 1},
                   "encoding": {"y": {"field": "med", "type": "quantitative", "axis": {"values": [0, 0.1, 0.2], "format": ".1f", "title": "SHM (frequency)", "tickSize": 7, "labelPadding": 4, "titlePadding": 10}}}},
                  {"data": {"name": "shm"}, "transform": [{"filter": "datum.t === 'Tonsil'"}], "mark": {"type": "circle", "size": 24, "opacity": 1},
                   "encoding": {
                     "xOffset": {"field": "k", "type": "quantitative", "scale": {"domain": [0, 25], "range": [32, 59]}},
                     "y": {"field": "v", "type": "quantitative", "axis": {"values": [0, 0.1, 0.2], "format": ".1f", "title": "SHM (frequency)", "tickSize": 7, "labelPadding": 4, "titlePadding": 10}},
                     "color": {"field": "i", "type": "nominal", "scale": {"domain": ["IGHM","IGHD","IGHG","IGHA","IGHE"], "range": ["#A6CEE3","#1F78B4","#33A02C","#FB9A99","#FF7F00"]},
                       "legend": {"title": null, "symbolType": "circle", "symbolSize": 100, "labelFontSize": 24, "rowPadding": 13, "offset": 0, "padding": 12, "labelOffset": 4}}}},
                  {"data": {"name": "pv"}, "transform": [{"filter": "datum.t === 'Tonsil'"}], "mark": {"type": "rule", "color": "#444444", "strokeWidth": 1.3},
                   "encoding": {"x": {"field": "from", "type": "nominal", "bandPosition": 0.5, "axis": {"title": null, "labelAngle": 0, "tickSize": 7, "labelPadding": 2}}, "x2": {"field": "to", "bandPosition": 0.5}, "y": {"field": "y", "type": "quantitative", "axis": {"values": [0, 0.1, 0.2], "format": ".1f", "title": "SHM (frequency)", "tickSize": 7, "labelPadding": 4, "titlePadding": 10}}}},
                  {"data": {"name": "pv"}, "transform": [{"filter": "datum.t === 'Tonsil'"}], "mark": {"type": "text", "fontSize": 24, "dy": -5, "baseline": "alphabetic", "color": "black"},
                   "encoding": {"x": {"field": "from", "type": "nominal", "bandPosition": 1, "axis": {"title": null, "labelAngle": 0, "tickSize": 7, "labelPadding": 2}}, "y": {"field": "y", "type": "quantitative", "axis": {"values": [0, 0.1, 0.2], "format": ".1f", "title": "SHM (frequency)", "tickSize": 7, "labelPadding": 4, "titlePadding": 10}}, "text": {"field": "label"}}}
                ],
                "resolve": {"scale": {"xOffset": "independent"}}
              }
            ],
            "spacing": 18
          }
        ],
        "spacing": 52,
        "resolve": {"scale": {"color": "independent"}, "legend": {"color": "independent"}}
      },
      {
        "title": {"text": "d", "anchor": "start", "frame": "bounds", "fontSize": 28, "fontWeight": "bold", "offset": 12, "dx": 8},
        "vconcat": [
          {"width": 504, "height": 1, "data": {"values": []}, "mark": "point"},
          {
            "data": {"name": "jac"},
            "facet": {
              "row": {"field": "donor", "type": "nominal", "sort": ["post-COV CNMC71", "post-COV CNMC89", "UC CNMC99"], "header": {"title": null, "labelOrient": "left", "labelAngle": 0, "labelAlign": "center", "labelExpr": "split(datum.value, ' ')", "labelFontSize": 25, "labelLineHeight": 33, "labelPadding": -40}},
              "column": {"field": "status", "type": "nominal", "sort": ["S1⁻ B cells", "S1⁺ B cells"], "header": {"title": null, "labelOrient": "top", "labelFontSize": 25, "labelPadding": 10}}
            },
            "spacing": {"row": 15, "column": 18},
            "spec": {
              "width": 243, "height": 216,
              "encoding": {
                "x": {"field": "col", "type": "nominal", "sort": ["Tonsil","Adenoid","PBMC"], "scale": {"paddingInner": 0, "paddingOuter": 0}, "axis": {"title": null, "labelAngle": -90, "labelAlign": "right", "labelBaseline": "middle", "tickSize": 7, "domain": false, "labelFontSize": 25, "labelPadding": 4}},
                "y": {"field": "row", "type": "nominal", "sort": ["PBMC","Adenoid","Tonsil"], "scale": {"paddingInner": 0, "paddingOuter": 0}, "axis": {"title": null, "tickSize": 7, "domain": false, "labelFontSize": 25, "labelPadding": 3}}
              },
              "layer": [
                {"mark": {"type": "rect", "color": "#808080"}},
                {"transform": [{"filter": "isValid(datum.jac)"}],
                 "mark": {"type": "rect"},
                 "encoding": {
                   "y": {"field": "row", "type": "nominal", "sort": ["PBMC","Adenoid","Tonsil"], "axis": null},
                   "color": {"field": "jac", "type": "quantitative", "scale": {"domain": [0, 0.0342], "scheme": {"name": "redyellowblue", "extent": [0.9, 0.1]}},
                     "legend": {"title": ["Jaccard", "index"], "gradientLength": 250, "gradientThickness": 36, "values": [0, 0.01, 0.02, 0.03], "format": ".2f", "labelFontSize": 24, "titleFontSize": 24, "titleLineHeight": 29, "titlePadding": 12, "offset": 22, "padding": 16, "gradientStrokeWidth": 0, "labelOffset": 8}}}},
                {"mark": {"type": "text", "fontSize": 25, "color": "black"},
                 "encoding": {
                   "y": {"field": "row", "type": "nominal", "sort": ["PBMC","Adenoid","Tonsil"], "axis": null},
                   "text": {"field": "n", "type": "quantitative"}}},
                {"mark": {"type": "rect", "opacity": 0},
                 "encoding": {
                   "y": {"field": "row", "type": "nominal", "sort": ["PBMC","Adenoid","Tonsil"], "axis": {"orient": "left", "offset": 114, "labels": false, "ticks": false, "domain": true, "domainColor": "black", "domainWidth": 1.5, "title": null}}}}
              ],
              "resolve": {"axis": {"y": "independent"}}
            }
          }
        ],
        "spacing": 22,
        "resolve": {"scale": {"color": "independent"}, "legend": {"color": "independent"}}
      }
    ],
    "spacing": 45,
    "resolve": {"scale": {"color": "independent"}, "legend": {"color": "independent"}}
  },
  {
    "hconcat": [
      {
        "title": {"text": "c", "anchor": "start", "frame": "bounds", "fontSize": 28, "fontWeight": "bold", "offset": -20, "dx": -32},
        "width": 340, "height": 319,
        "encoding": {"x": {"field": "cond", "type": "nominal", "scale": {"domain": ["UC S1⁻","post-COV S1⁻","post-COV S1⁺"], "paddingInner": 0, "paddingOuter": 0.104}, "axis": {"title": null, "labelAngle": 0, "labelExpr": "split(datum.label, ' ')", "tickSize": 7, "labelFontSize": 21, "labelLineHeight": 24, "labelPadding": 2}}},
        "layer": [
          {"data": {"name": "cbox"}, "mark": {"type": "bar", "fill": "white", "fillOpacity": 0, "stroke": "black", "strokeWidth": 1.2, "width": {"band": 0.5}},
           "encoding": {"y": {"field": "q1", "type": "quantitative", "scale": {"domain": [84.5, 107], "nice": false, "zero": false}, "axis": {"values": [85, 90, 95, 100, 105], "title": "Simpson's diversity", "tickSize": 7, "labelPadding": 7, "titlePadding": 10}}, "y2": {"field": "q3"}}},
          {"data": {"name": "cbox"}, "mark": {"type": "rule", "color": "black", "strokeWidth": 1.2},
           "encoding": {"y": {"field": "lo", "type": "quantitative", "axis": {"values": [85, 90, 95, 100, 105], "title": "Simpson's diversity", "tickSize": 7, "labelPadding": 7, "titlePadding": 10}}, "y2": {"field": "q1"}}},
          {"data": {"name": "cbox"}, "mark": {"type": "rule", "color": "black", "strokeWidth": 1.2},
           "encoding": {"y": {"field": "q3", "type": "quantitative", "axis": {"values": [85, 90, 95, 100, 105], "title": "Simpson's diversity", "tickSize": 7, "labelPadding": 7, "titlePadding": 10}}, "y2": {"field": "hi"}}},
          {"data": {"name": "cbox"}, "mark": {"type": "tick", "size": 53, "thickness": 3, "color": "black", "opacity": 1},
           "encoding": {"y": {"field": "med", "type": "quantitative", "axis": {"values": [85, 90, 95, 100, 105], "title": "Simpson's diversity", "tickSize": 7, "labelPadding": 7, "titlePadding": 10}}}},
          {"data": {"name": "cpts"}, "mark": {"type": "point", "shape": "circle", "filled": true, "size": 200, "stroke": "black", "strokeWidth": 2, "opacity": 1},
           "encoding": {
             "xOffset": {"field": "k", "type": "quantitative", "scale": {"domain": [0, 60], "range": [23, 83]}},
             "y": {"field": "v", "type": "quantitative", "axis": {"values": [85, 90, 95, 100, 105], "title": "Simpson's diversity", "tickSize": 7, "labelPadding": 7, "titlePadding": 10}},
             "fill": {"field": "tissue", "type": "nominal", "scale": {"domain": ["PBMC","Adenoid","Tonsil"], "range": ["#FF0000","#FFFF00","#A020F0"]},
               "legend": {"title": null, "symbolType": "circle", "symbolSize": 200, "symbolStrokeColor": "black", "symbolStrokeWidth": 2, "labelFontSize": 24, "rowPadding": 18, "offset": 39, "labelOffset": 14, "padding": 0}}}},
          {"data": {"name": "cbr"}, "mark": {"type": "rule", "color": "black", "strokeWidth": 1.3},
           "encoding": {"x": {"field": "from", "type": "nominal", "bandPosition": 0.5, "axis": {"title": null, "labelAngle": 0, "labelExpr": "split(datum.label, ' ')", "tickSize": 7, "labelFontSize": 21, "labelLineHeight": 24, "labelPadding": 2}}, "x2": {"field": "to", "bandPosition": 0.5}, "y": {"field": "y", "type": "quantitative", "axis": {"values": [85, 90, 95, 100, 105], "title": "Simpson's diversity", "tickSize": 7, "labelPadding": 7, "titlePadding": 10}}}},
          {"data": {"name": "cbr"}, "transform": [{"filter": "datum.span === 1"}], "mark": {"type": "text", "fontSize": 23, "dy": -10, "baseline": "alphabetic", "color": "black"},
           "encoding": {"x": {"field": "from", "type": "nominal", "bandPosition": 1, "axis": {"title": null, "labelAngle": 0, "labelExpr": "split(datum.label, ' ')", "tickSize": 7, "labelFontSize": 21, "labelLineHeight": 24, "labelPadding": 2}}, "y": {"field": "y", "type": "quantitative", "axis": {"values": [85, 90, 95, 100, 105], "title": "Simpson's diversity", "tickSize": 7, "labelPadding": 7, "titlePadding": 10}}, "text": {"field": "label"}}},
          {"data": {"name": "cbr"}, "transform": [{"filter": "datum.span === 2"}], "mark": {"type": "text", "fontSize": 23, "dy": -10, "baseline": "alphabetic", "color": "black"},
           "encoding": {"x": {"field": "mid", "type": "nominal", "bandPosition": 0.5, "axis": {"title": null, "labelAngle": 0, "labelExpr": "split(datum.label, ' ')", "tickSize": 7, "labelFontSize": 21, "labelLineHeight": 24, "labelPadding": 2}}, "y": {"field": "y", "type": "quantitative", "axis": {"values": [85, 90, 95, 100, 105], "title": "Simpson's diversity", "tickSize": 7, "labelPadding": 7, "titlePadding": 10}}, "text": {"field": "label"}}}
        ],
        "resolve": {"scale": {"xOffset": "independent"}}
      },
      {
        "title": {"text": "e", "anchor": "start", "frame": "bounds", "fontSize": 28, "fontWeight": "bold", "offset": -20, "dx": 31},
        "hconcat": [
          {
            "width": 386, "height": 350,
            "title": {"text": ["post-COV", "CNMC89"], "fontSize": 23, "lineHeight": 30, "offset": -30},
            "layer": [
              {"data": {"name": "edges"}, "transform": [{"filter": "datum.tree === 1 && datum.kind === 'branch'"}], "mark": {"type": "rule", "color": "black", "strokeWidth": 1.5},
               "encoding": {"x": {"field": "d0", "type": "quantitative", "scale": {"domain": [0, 0.386], "nice": false, "zero": false}, "axis": null}, "x2": {"field": "d1"}, "y": {"field": "r0", "type": "quantitative", "scale": {"domain": [-1.089, 10.5], "nice": false, "zero": false, "reverse": true}, "axis": null}, "y2": {"field": "r1"}}},
              {"data": {"name": "tips"}, "transform": [{"filter": "datum.tree === 1 && isValid(datum.tissue)"}], "mark": {"type": "point", "shape": "triangle-up", "filled": true, "size": 200, "stroke": "black", "strokeWidth": 1.5, "opacity": 1},
               "encoding": {"x": {"field": "dist", "type": "quantitative", "axis": null}, "y": {"field": "rank", "type": "quantitative", "axis": null}, "fill": {"field": "tissue", "type": "nominal", "scale": {"domain": ["Adenoid","Tonsil"], "range": ["#FFFF00","#A020F0"]}, "legend": null}}},
              {"data": {"name": "tips"}, "transform": [{"filter": "datum.tree === 1"}], "mark": {"type": "text", "align": "left", "dx": 13, "fontSize": 23, "baseline": "middle", "color": "black"},
               "encoding": {"x": {"field": "dist", "type": "quantitative", "axis": null}, "y": {"field": "rank", "type": "quantitative", "axis": null}, "text": {"field": "label"}}}
            ]
          },
          {
            "width": 563, "height": 348,
            "title": {"text": ["post-COV", "CNMC89"], "fontSize": 23, "lineHeight": 30, "offset": -30, "dx": -133},
            "layer": [
              {"data": {"name": "edges"}, "transform": [{"filter": "datum.tree === 2 && datum.kind === 'branch'"}], "mark": {"type": "rule", "color": "black", "strokeWidth": 1.5},
               "encoding": {"x": {"field": "d0", "type": "quantitative", "scale": {"domain": [0, 0.563], "nice": false, "zero": false}, "axis": null}, "x2": {"field": "d1"}, "y": {"field": "r0", "type": "quantitative", "scale": {"domain": [-0.77, 9.67], "nice": false, "zero": false, "reverse": true}, "axis": null}, "y2": {"field": "r1"}}},
              {"data": {"name": "edges"}, "transform": [{"filter": "datum.tree === 2 && datum.kind === 'scale'"}], "mark": {"type": "rule", "color": "black", "strokeWidth": 3.5},
               "encoding": {"x": {"field": "d0", "type": "quantitative", "axis": null}, "x2": {"field": "d1"}, "y": {"field": "r0", "type": "quantitative", "axis": null}, "y2": {"field": "r1"}}},
              {"data": {"name": "tips"}, "transform": [{"filter": "datum.tree === 2 && isValid(datum.tissue)"}], "mark": {"type": "point", "shape": "triangle-up", "filled": true, "size": 200, "stroke": "black", "strokeWidth": 1.5, "opacity": 1},
               "encoding": {"x": {"field": "dist", "type": "quantitative", "axis": null}, "y": {"field": "rank", "type": "quantitative", "axis": null},
                 "fill": {"field": "tissue", "type": "nominal", "scale": {"domain": ["Adenoid","Tonsil"], "range": ["#FFFF00","#A020F0"]},
                   "legend": {"title": " ", "titleFontSize": 30, "titlePadding": 11, "orient": "top-right", "symbolType": "triangle-up", "symbolSize": 300, "symbolStrokeColor": "black", "symbolStrokeWidth": 1.5, "labelFontSize": 23, "labelExpr": "datum.label + '  S1⁺ B cells'", "rowPadding": 13, "offset": 17, "labelOffset": 16, "padding": 0, "labelLimit": 400}}}},
              {"data": {"name": "tips"}, "transform": [{"filter": "datum.tree === 2"}], "mark": {"type": "text", "align": "left", "dx": 13, "fontSize": 23, "baseline": "middle", "color": "black"},
               "encoding": {"x": {"field": "dist", "type": "quantitative", "axis": null}, "y": {"field": "rank", "type": "quantitative", "axis": null}, "text": {"field": "label"}}}
            ]
          }
        ],
        "spacing": 62,
        "resolve": {"scale": {"fill": "independent"}, "legend": {"fill": "independent"}}
      }
    ],
    "spacing": 162,
    "resolve": {"scale": {"fill": "independent"}, "legend": {"fill": "independent"}}
  }
],
"spacing": 70,
"resolve": {"scale": {"color": "independent", "fill": "independent"}, "legend": {"color": "independent", "fill": "independent"}}
}
